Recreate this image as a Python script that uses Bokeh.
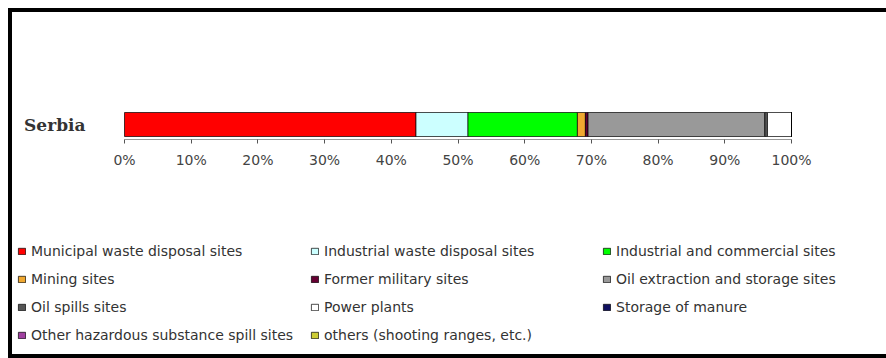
from bokeh.plotting import figure
from bokeh.layouts import column
from bokeh.models import ColumnDataSource, Legend, LegendItem, FixedTicker, Range1d
from bokeh.core.properties import value
from bokeh.embed import file_html
from bokeh.resources import INLINE

regions = ["Serbia"]
series = [
    "Municipal waste disposal sites",
    "Industrial waste disposal sites",
    "Industrial and commercial sites",
    "Mining sites",
    "Former military sites",
    "Oil extraction and storage sites",
    "Oil spills sites",
    "Power plants",
    "Storage of manure",
    "Other hazardous substance spill sites",
    "others (shooting ranges, etc.)",
]
values = [43.7, 7.8, 16.4, 1.2, 0.4, 26.5, 0.4, 3.6, 0.0, 0.0, 0.0]
colors = ["#FF0000", "#CCFFFF", "#00FF00", "#F0A830", "#660033", "#999999",
          "#555555", "#FFFFFF", "#101060", "#A040A0", "#CCCC33"]
tick_values = [0, 10, 20, 30, 40, 50, 60, 70, 80, 90, 100]
tick_labels = ["0%", "10%", "20%", "30%", "40%", "50%", "60%", "70%", "80%", "90%", "100%"]

keys = [f"s{i}" for i in range(len(series))]
data = {"region": regions, "start": [tick_values[0]]}
for k, v in zip(keys, values):
    data[k] = [v]
source = ColumnDataSource(data)

W = 874
H1 = 188
H2 = 154
# frame spans the whole width; 0% sits 112px and 100% sits 779px from the left edge
px_per_unit = (779 - 112) / 100.0
x_start = -112 / px_per_unit
x_end = 100 + (W - 779) / px_per_unit

# ---- top figure: the stacked bar and its axis ----
p = figure(width=W, height=H1, y_range=regions, x_range=Range1d(x_start, x_end),
           output_backend="svg", toolbar_location=None, y_axis_location=None,
           min_border_left=0, min_border_right=0,
           min_border_top=97, min_border_bottom=H1 - 97 - 30)
p.outline_line_color = None
p.background_fill_color = "white"
p.border_fill_color = "white"
p.grid.visible = False

p.hbar_stack(keys, y="region", height=0.8, color=colors, source=source,
             line_color="black", line_width=0.7)

# category label to the left of the bar
p.text(x="start", y="region", text="region", source=source, x_offset=-39,
       text_align="right", text_baseline="middle",
       text_font=value("DejaVu Serif"), text_font_style="bold",
       text_font_size="17px", text_color="#333333")

xa = p.xaxis[0]
xa.bounds = (tick_values[0], tick_values[-1])
xa.ticker = FixedTicker(ticks=tick_values)
xa.major_label_overrides = {v: l for v, l in zip(tick_values, tick_labels)}
xa.axis_line_color = "#999999"
xa.major_tick_line_color = "#555555"
xa.major_tick_out = 4
xa.major_tick_in = 0
xa.minor_tick_line_color = None
xa.major_label_text_font = "DejaVu Sans"
xa.major_label_text_font_size = "14px"
xa.major_label_text_color = "#444444"
xa.major_label_standoff = 8

# ---- bottom figure: the legend (bars fall outside its range, only the keys show) ----
q = figure(width=W, height=H2, y_range=regions, x_range=Range1d(-1100, -1000),
           output_backend="svg", toolbar_location=None,
           x_axis_location=None, y_axis_location=None,
           min_border_left=0, min_border_right=0, min_border_top=0, min_border_bottom=0)
q.outline_line_color = None
q.background_fill_color = "white"
q.border_fill_color = "white"
q.grid.visible = False
q_renderers = q.hbar_stack(keys, y="region", height=0.8, color=colors, source=source,
                           line_color="black", line_width=0.7)

col_x = [5, 298, 590]
top_offset = 40.7
for c in range(3):
    idx = list(range(c, len(series), 3))
    items = [LegendItem(label=series[i], renderers=[q_renderers[i]]) for i in idx]
    n = len(items)
    h = n * 20 + (n - 1) * 8
    y = H2 - top_offset - h
    lg = Legend(items=items, location=(col_x[c], y), orientation="vertical",
                label_text_font="DejaVu Sans", label_text_font_size="14px",
                label_text_color="#333333", label_height=20, glyph_height=8,
                glyph_width=9, spacing=8, label_standoff=5, padding=0, margin=0,
                border_line_color=None, background_fill_alpha=0)
    q.add_layout(lg, "center")

frame_shadow = ("-4px 0 0 0 black, 0 -4px 0 0 black, 0 4px 0 0 black, "
                "-4px -4px 0 0 black, -4px 4px 0 0 black")
layout = column(p, q, spacing=0,
                styles={"margin-left": "12px", "margin-top": "12px",
                        "box-shadow": frame_shadow,
                        "background-color": "white"})

open("out.html", "w").write(file_html(layout, INLINE))
